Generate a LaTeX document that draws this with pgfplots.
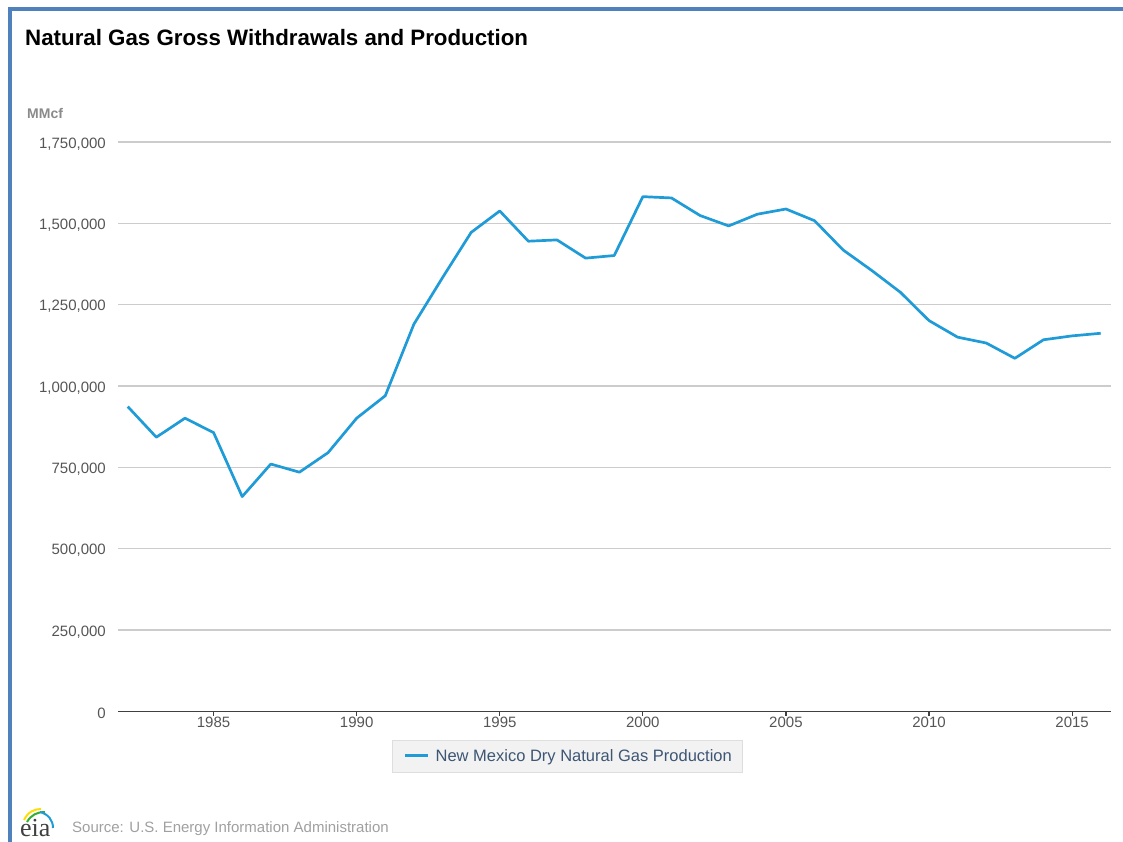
\documentclass[border=0pt]{standalone}
\usepackage{fontspec}
\setmainfont{Liberation Sans}
\newfontfamily\logofont{Liberation Serif}
\usepackage{pgfplots}
\pgfplotsset{compat=1.18}

\definecolor{frameblue}{HTML}{4F81BD}
\definecolor{gasblue}{HTML}{1F9BD7}
\definecolor{gridgray}{HTML}{CCCCCC}
\definecolor{axisgray}{HTML}{404040}
\definecolor{ticktext}{HTML}{555555}
\definecolor{unitgray}{HTML}{8A8A8A}
\definecolor{srcgray}{HTML}{A0A0A0}
\definecolor{legfill}{HTML}{F2F2F2}
\definecolor{legdraw}{HTML}{DEDEDE}
\definecolor{legtext}{HTML}{3D5673}

% New Mexico dry natural gas production, MMcf
\pgfplotstableread{
year value
1982 936700
1983 842500
1984 901000
1985 856700
1986 660000
1987 760000
1988 735000
1989 795000
1990 901000
1991 970000
1992 1190000
1993 1333000
1994 1472000
1995 1538000
1996 1445000
1997 1449000
1998 1393000
1999 1401000
2000 1582000
2001 1578000
2002 1524000
2003 1492000
2004 1528000
2005 1544000
2006 1508000
2007 1418000
2008 1355000
2009 1288000
2010 1201000
2011 1150000
2012 1132000
2013 1085000
2014 1142000
2015 1154000
2016 1162000
}\nmgas

\begin{document}
\begin{tikzpicture}
\path[use as bounding box] (0pt,0pt) rectangle (1123pt,842pt);

% frame
\draw[frameblue, line width=4pt] (10pt,0pt) -- (10pt,833.3pt) -- (1123pt,833.3pt);

\node[anchor=base west, inner sep=0pt] at (25pt,796pt)
  {\fontsize{22.3}{26}\selectfont\bfseries Natural Gas Gross Withdrawals and Production};
\node[anchor=base west, inner sep=0pt, text=unitgray] at (27pt,723pt)
  {\fontsize{14}{17}\selectfont\bfseries MMcf};

\begin{axis}[
    at={(118pt,130.7pt)}, anchor=south west,
    scale only axis,
    width=993pt, height=569.3pt,
    xmin=1981.66, xmax=2016.36,
    ymin=0, ymax=1750000,
    xtick={1985,1990,...,2015},
    ytick={0,250000,...,1750000},
    scaled y ticks=false,
    axis x line*=bottom,
    axis y line*=left,
    y axis line style={draw=none},
    x axis line style={axisgray, line width=1.5pt},
    ytick style={draw=none},
    xtick style={axisgray, line width=1.2pt},
    tick align=outside,
    major tick length=4.5pt,
    ymajorgrids,
    grid style={gridgray, line width=1.2pt},
    /pgf/number format/assume math mode=true,
    ticklabel style={font=\fontsize{15}{18}\selectfont, text=ticktext},
    xticklabel style={/pgf/number format/1000 sep={}, inner sep=0pt, yshift=-1.5pt},
    yticklabel style={/pgf/number format/fixed, /pgf/number format/1000 sep={,},
        inner sep=0pt, xshift=-7.5pt, yshift=-2pt},
    legend style={
        at={(0.4529,-0.0789)}, anchor=center,
        fill=legfill, draw=legdraw, line width=0.8pt,
        inner xsep=11pt, inner ysep=9.5pt,
        font=\fontsize{16.5}{19}\selectfont, text=legtext,
        nodes={inner sep=0pt},
        column sep=6.3pt,
    },
    legend image code/.code={\draw[#1, line width=3pt] (0pt,0.5pt) -- (22.7pt,0.5pt);},
]
\addplot[gasblue, line width=2.7pt, line join=round] table[x=year, y=value] {\nmgas};
\addlegendentry{New Mexico Dry Natural Gas Production}
\end{axis}

% eia logo and source
\node[anchor=base west, inner sep=0pt, text=black!75] at (20pt,5pt)
  {\fontsize{26}{29}\logofont eia};
\draw[yellow!80!orange, line width=2pt] (24pt,22pt) .. controls (28pt,30pt) and (34pt,33pt) .. (41pt,33pt);
\draw[green!60!black!80, line width=2pt] (27pt,20pt) .. controls (31pt,27pt) and (37pt,30pt) .. (45pt,30pt);
\draw[gasblue, line width=2pt] (40pt,30pt) .. controls (48pt,28pt) and (53pt,22pt) .. (53pt,14pt);
\node[anchor=base west, inner sep=0pt, text=srcgray] at (72pt,9pt)
  {\fontsize{15}{18}\selectfont Source: U.S. Energy Information Administration};
\end{tikzpicture}
\end{document}
